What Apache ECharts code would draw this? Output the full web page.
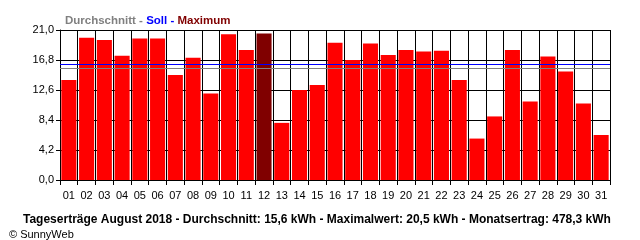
<!DOCTYPE html>
<html><head><meta charset="utf-8">
<script src="https://cdn.jsdelivr.net/npm/echarts@6/dist/echarts.min.js"></script>
<style>html,body{margin:0;padding:0;background:#fff}#c{width:640px;height:240px}</style>
</head><body><div id="c"></div>
<script>
const days = ['01','02','03','04','05','06','07','08','09','10','11','12','13','14','15','16','17','18','19','20','21','22','23','24','25','26','27','28','29','30','31'];
const yields = [14.0, 19.9, 19.6, 17.4, 19.8, 19.8, 14.7, 17.1, 12.1, 20.4, 18.2, 20.5, 8.0, 12.6, 13.3, 19.2, 16.8, 19.1, 17.5, 18.2, 18.0, 18.1, 14.0, 5.8, 8.9, 18.2, 11.0, 17.3, 15.2, 10.7, 6.3];
const sollValue = 16.2;
const avgValue = 15.6;
const yMin = 0, yMax = 21, yStep = 4.2;
const legendText = ['Durchschnitt - ', 'Soll - ', 'Maximum'];
const footerText = 'Tageserträge August 2018 - Durchschnitt: 15,6 kWh - Maximalwert: 20,5 kWh - Monatsertrag: 478,3 kWh';
const copyrightText = '© SunnyWeb';

const maxVal = Math.max(...yields);
const barData = yields.map(v => v === maxVal ? {value: v, itemStyle: {color: '#800000'}} : v);
const narrow = '"Liberation Sans Narrow", "Liberation Sans", Arial, sans-serif';
const bold = {fontWeight: 'bold', fontSize: 11.5, fontFamily: 'Liberation Sans, Arial'};

const chart = echarts.init(document.getElementById('c'), null, {renderer: 'canvas'});
chart.setOption({
  animation: false,
  backgroundColor: '#fff',
  title: [
    {
      text: '{g|' + legendText[0] + '}{b|' + legendText[1] + '}{r|' + legendText[2] + '}',
      left: 60, top: 10,
      textStyle: {
        rich: {
          g: Object.assign({color: '#808080'}, bold),
          b: Object.assign({color: '#0000ff'}, bold),
          r: Object.assign({color: '#800000'}, bold)
        }
      }
    },
    {
      text: footerText,
      left: 18, top: 209,
      textStyle: {color: '#000', fontWeight: 'bold', fontSize: 12, fontFamily: 'Liberation Sans, Arial'}
    },
    {
      text: copyrightText,
      left: 4, top: 224,
      textStyle: {color: '#000', fontWeight: 'normal', fontSize: 11, fontFamily: narrow}
    }
  ],
  grid: {left: 60, right: 30, top: 30, bottom: 60, containLabel: false},
  xAxis: {
    type: 'category',
    data: days,
    boundaryGap: true,
    axisLine: {show: true, lineStyle: {color: '#000', width: 1}},
    axisTick: {show: true, length: 5, lineStyle: {color: '#000'}},
    axisLabel: {color: '#000', fontSize: 11, fontFamily: narrow, margin: 10, interval: 0},
    splitLine: {show: true, lineStyle: {color: '#000', width: 1}}
  },
  yAxis: {
    type: 'value',
    min: yMin, max: yMax, interval: yStep,
    axisLine: {show: true, lineStyle: {color: '#000'}},
    axisTick: {show: true, length: 4, lineStyle: {color: '#000'}},
    axisLabel: {color: '#000', fontSize: 11, fontFamily: narrow, margin: 6,
      formatter: v => v.toFixed(1).replace('.', ',')},
    splitLine: {show: true, lineStyle: {color: '#000', width: 1}}
  },
  series: [{
    type: 'bar',
    data: barData,
    barCategoryGap: '15%',
    itemStyle: {color: '#ff0000'},
    markLine: {
      silent: true,
      symbol: 'none',
      label: {show: false},
      z: 10,
      data: [
        {yAxis: sollValue, lineStyle: {color: '#0000ff', width: 1, type: 'solid'}},
        {yAxis: avgValue, lineStyle: {color: '#808080', width: 1, type: 'solid'}}
      ]
    }
  }]
});
</script></body></html>
